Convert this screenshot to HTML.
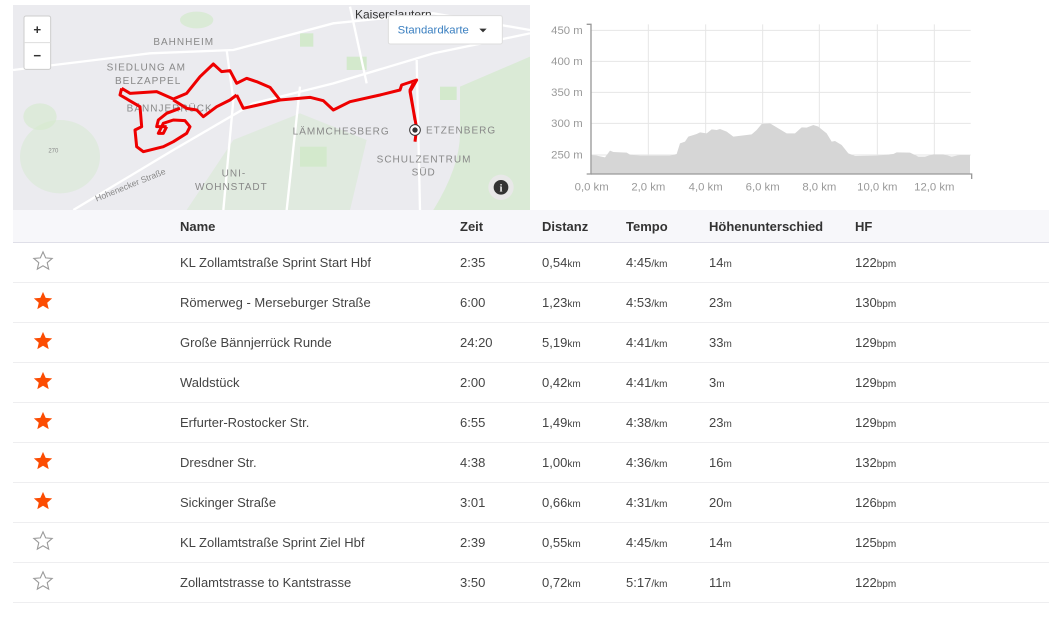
<!DOCTYPE html>
<html><head><meta charset="utf-8"><style>
body{margin:0;width:1053px;height:631px;background:#fff;font-family:"Liberation Sans",sans-serif;position:relative;overflow:hidden}
.map{position:absolute;left:13px;top:5px;width:517px;height:205px;overflow:hidden;background:#ebebef}
.chart{position:absolute;left:530px;top:0}
table{position:absolute;left:13px;top:210px;width:1036px;border-collapse:collapse;font-size:13px;color:#333;table-layout:fixed}
th{background:#f7f7fa;height:32px;text-align:left;font-weight:bold;color:#333;border-bottom:1px solid #dfdfe8;padding:0}
td{height:39px;border-bottom:1px solid #eeeef0;padding:0;color:#444}
small{font-size:10px}
.s{width:148px;padding-left:19px}
</style></head><body>
<div class="map"><svg width="517" height="205" viewBox="39 15 1551 615" preserveAspectRatio="none">
<rect x="0" y="0" width="1600" height="650" fill="#ebebef"/>
<g fill="#d3e9cc">
<path d="M1380 260 L1590 170 L1590 630 L1300 630 Q1380 500 1380 400Z" opacity=".7"/>
<path d="M560 630 L700 420 L900 340 L1100 420 L1050 630Z" opacity=".45"/>
<ellipse cx="180" cy="470" rx="120" ry="110" opacity=".45"/>
<rect x="1040" y="170" width="60" height="40"/><rect x="900" y="440" width="80" height="60"/>
<ellipse cx="590" cy="60" rx="50" ry="25" opacity=".7"/><ellipse cx="120" cy="350" rx="50" ry="40" opacity=".6"/>
<rect x="900" y="100" width="40" height="40"/><rect x="1320" y="260" width="50" height="40"/>
</g>
<g stroke="#fff" stroke-width="7" fill="none">
<path d="M39 210 L450 160 L700 150 L1000 70 L1300 40 L1590 90"/>
<path d="M220 630 L520 450 L760 310 L1000 250 L1300 160 L1590 100"/>
<path d="M680 150 L700 300 L670 630"/><path d="M900 260 L860 630"/>
<path d="M1250 180 L1260 630"/><path d="M1050 20 L1100 250"/>
</g>
<g font-family="Liberation Sans" fill="#888" font-size="30" letter-spacing="3">
<text x="460" y="135">BAHNHEIM</text><text x="320" y="212">SIEDLUNG AM</text><text x="345" y="252">BELZAPPEL</text>
<text x="380" y="335">BÄNNJERRÜCK</text><text x="878" y="403">LÄMMCHESBERG</text><text x="1278" y="400">ETZENBERG</text>
<text x="1130" y="488">SCHULZENTRUM</text><text x="1235" y="527">SÜD</text><text x="665" y="530">UNI-</text><text x="585" y="570">WOHNSTADT</text>
<text x="290" y="605" font-size="26" letter-spacing="0" transform="rotate(-22 290 605)">Hohenecker Straße</text>
<text x="145" y="458" font-size="18" letter-spacing="0">270</text>
</g>
<text x="1065" y="55" font-family="Liberation Sans" font-size="36" fill="#333">Kaiserslautern</text>
<path d="M365 265 L390 280 L470 275 L520 297 L560 280 L600 230 L640 192 L665 215 L690 212 L710 250 L740 235 L770 245 L810 262 L840 300 L930 292 L970 302 L1000 330 L1050 305 L1140 285 L1200 270 L1205 255 L1250 240 L1230 275 L1250 385 L1245 425 M1240 250 L1230 270 L1245 360 M710 285 L730 325 L840 300 M710 285 L690 300 L650 320 L610 350 L590 330 L560 325 L520 300 M365 265 L360 285 L420 320 L425 380 L405 390 L410 440 L430 455 L490 440 L520 425 L560 400 L570 380 L555 362 L520 360 L490 370 L475 400 L490 400 L500 380 M500 380 L470 380 L475 360 L500 340 L540 325" stroke="#ee0000" stroke-width="9" fill="none" stroke-linejoin="round"/>
<circle cx="1245" cy="390" r="16" fill="#fff" stroke="#333" stroke-width="3"/><circle cx="1245" cy="390" r="8" fill="#333"/>
<rect x="72" y="48" width="80" height="160" rx="6" fill="#fff" stroke="#ccc" stroke-width="3"/>
<line x1="72" y1="128" x2="152" y2="128" stroke="#ddd" stroke-width="3"/>
<text x="112" y="102" text-anchor="middle" font-size="40" font-weight="bold" font-family="Liberation Sans" fill="#333">+</text>
<text x="112" y="180" text-anchor="middle" font-size="40" font-weight="bold" font-family="Liberation Sans" fill="#333">−</text>
<rect x="1165" y="47" width="342" height="85" rx="6" fill="#fff" stroke="#ddd" stroke-width="3"/>
<text x="1193" y="100" font-size="34" font-family="Liberation Sans" fill="#3a7fc0">Standardkarte</text>
<path d="M1438 86 L1460 86 L1449 97Z" fill="#333"/>
<circle cx="1503" cy="562" r="38" fill="#e8e8e8"/><circle cx="1503" cy="562" r="22" fill="#333"/>
<text x="1503" y="574" text-anchor="middle" font-size="30" font-weight="bold" font-family="Liberation Serif" fill="#fff">i</text>
</svg></div>
<svg class="chart" width="450" height="210" viewBox="0 0 1350 630">
<g stroke="#e6e6e6" stroke-width="3">
<line x1="183" y1="91" x2="1322" y2="91"/><line x1="183" y1="184" x2="1322" y2="184"/><line x1="183" y1="277" x2="1322" y2="277"/><line x1="183" y1="370" x2="1322" y2="370"/><line x1="183" y1="465" x2="1322" y2="465"/>
<line x1="355" y1="73" x2="355" y2="522"/><line x1="527" y1="73" x2="527" y2="522"/><line x1="698" y1="73" x2="698" y2="522"/><line x1="868" y1="73" x2="868" y2="522"/><line x1="1042" y1="73" x2="1042" y2="522"/><line x1="1213" y1="73" x2="1213" y2="522"/>
</g>
<polygon fill="#d6d6d6" points="185,465 200,467 225,472 240,452 250,456 290,458 300,464 330,467 420,467 440,462 450,430 465,425 475,410 500,402 510,397 530,400 545,388 560,390 570,387 590,395 610,410 650,405 665,403 680,390 695,372 720,370 740,382 770,400 795,400 815,382 830,383 850,375 865,380 890,400 905,425 915,423 935,435 955,460 975,468 1040,467 1090,462 1100,457 1140,458 1165,470 1185,470 1210,463 1240,463 1265,470 1290,465 1320,465 1320,522 185,522"/>
<g stroke="#999" stroke-width="4" fill="none"><path d="M170 73 L183 73 L183 522 L170 522"/><path d="M183 522 L1325 522 L1325 537"/></g>
<g font-family="Liberation Sans" font-size="34" fill="#999" text-anchor="end">
<text x="158" y="102">450 m</text><text x="158" y="195">400 m</text><text x="158" y="288">350 m</text><text x="158" y="381">300 m</text><text x="158" y="476">250 m</text></g>
<g font-family="Liberation Sans" font-size="34" fill="#999" text-anchor="middle">
<text x="185" y="572">0,0 km</text><text x="355" y="572">2,0 km</text><text x="527" y="572">4,0 km</text><text x="698" y="572">6,0 km</text><text x="868" y="572">8,0 km</text><text x="1042" y="572">10,0 km</text><text x="1213" y="572">12,0 km</text></g>
</svg>
<table>
<colgroup><col style="width:167px"><col style="width:280px"><col style="width:82px"><col style="width:84px"><col style="width:83px"><col style="width:146px"><col></colgroup>
<tr><th class="s"></th><th>Name</th><th>Zeit</th><th>Distanz</th><th>Tempo</th><th>Höhenunterschied</th><th>HF</th></tr>
<tr><td class="s"><svg width="22" height="22" viewBox="0 0 24 24"><path d="M12 2l2.9 6.6 7.1.6-5.4 4.7 1.6 7-6.2-3.7-6.2 3.7 1.6-7L2 9.2l7.1-.6z" fill="none" stroke="#999" stroke-width="1.2"/></svg></td><td>KL Zollamtstraße Sprint Start Hbf</td><td>2:35</td><td>0,54<small>km</small></td><td>4:45<small>/km</small></td><td>14<small>m</small></td><td>122<small>bpm</small></td></tr>
<tr><td class="s"><svg width="22" height="22" viewBox="0 0 24 24"><path d="M12 2l2.9 6.6 7.1.6-5.4 4.7 1.6 7-6.2-3.7-6.2 3.7 1.6-7L2 9.2l7.1-.6z" fill="#fc4c02"/></svg></td><td>Römerweg - Merseburger Straße</td><td>6:00</td><td>1,23<small>km</small></td><td>4:53<small>/km</small></td><td>23<small>m</small></td><td>130<small>bpm</small></td></tr>
<tr><td class="s"><svg width="22" height="22" viewBox="0 0 24 24"><path d="M12 2l2.9 6.6 7.1.6-5.4 4.7 1.6 7-6.2-3.7-6.2 3.7 1.6-7L2 9.2l7.1-.6z" fill="#fc4c02"/></svg></td><td>Große Bännjerrück Runde</td><td>24:20</td><td>5,19<small>km</small></td><td>4:41<small>/km</small></td><td>33<small>m</small></td><td>129<small>bpm</small></td></tr>
<tr><td class="s"><svg width="22" height="22" viewBox="0 0 24 24"><path d="M12 2l2.9 6.6 7.1.6-5.4 4.7 1.6 7-6.2-3.7-6.2 3.7 1.6-7L2 9.2l7.1-.6z" fill="#fc4c02"/></svg></td><td>Waldstück</td><td>2:00</td><td>0,42<small>km</small></td><td>4:41<small>/km</small></td><td>3<small>m</small></td><td>129<small>bpm</small></td></tr>
<tr><td class="s"><svg width="22" height="22" viewBox="0 0 24 24"><path d="M12 2l2.9 6.6 7.1.6-5.4 4.7 1.6 7-6.2-3.7-6.2 3.7 1.6-7L2 9.2l7.1-.6z" fill="#fc4c02"/></svg></td><td>Erfurter-Rostocker Str.</td><td>6:55</td><td>1,49<small>km</small></td><td>4:38<small>/km</small></td><td>23<small>m</small></td><td>129<small>bpm</small></td></tr>
<tr><td class="s"><svg width="22" height="22" viewBox="0 0 24 24"><path d="M12 2l2.9 6.6 7.1.6-5.4 4.7 1.6 7-6.2-3.7-6.2 3.7 1.6-7L2 9.2l7.1-.6z" fill="#fc4c02"/></svg></td><td>Dresdner Str.</td><td>4:38</td><td>1,00<small>km</small></td><td>4:36<small>/km</small></td><td>16<small>m</small></td><td>132<small>bpm</small></td></tr>
<tr><td class="s"><svg width="22" height="22" viewBox="0 0 24 24"><path d="M12 2l2.9 6.6 7.1.6-5.4 4.7 1.6 7-6.2-3.7-6.2 3.7 1.6-7L2 9.2l7.1-.6z" fill="#fc4c02"/></svg></td><td>Sickinger Straße</td><td>3:01</td><td>0,66<small>km</small></td><td>4:31<small>/km</small></td><td>20<small>m</small></td><td>126<small>bpm</small></td></tr>
<tr><td class="s"><svg width="22" height="22" viewBox="0 0 24 24"><path d="M12 2l2.9 6.6 7.1.6-5.4 4.7 1.6 7-6.2-3.7-6.2 3.7 1.6-7L2 9.2l7.1-.6z" fill="none" stroke="#999" stroke-width="1.2"/></svg></td><td>KL Zollamtstraße Sprint Ziel Hbf</td><td>2:39</td><td>0,55<small>km</small></td><td>4:45<small>/km</small></td><td>14<small>m</small></td><td>125<small>bpm</small></td></tr>
<tr><td class="s"><svg width="22" height="22" viewBox="0 0 24 24"><path d="M12 2l2.9 6.6 7.1.6-5.4 4.7 1.6 7-6.2-3.7-6.2 3.7 1.6-7L2 9.2l7.1-.6z" fill="none" stroke="#999" stroke-width="1.2"/></svg></td><td>Zollamtstrasse to Kantstrasse</td><td>3:50</td><td>0,72<small>km</small></td><td>5:17<small>/km</small></td><td>11<small>m</small></td><td>122<small>bpm</small></td></tr>
</table>
</body></html>
